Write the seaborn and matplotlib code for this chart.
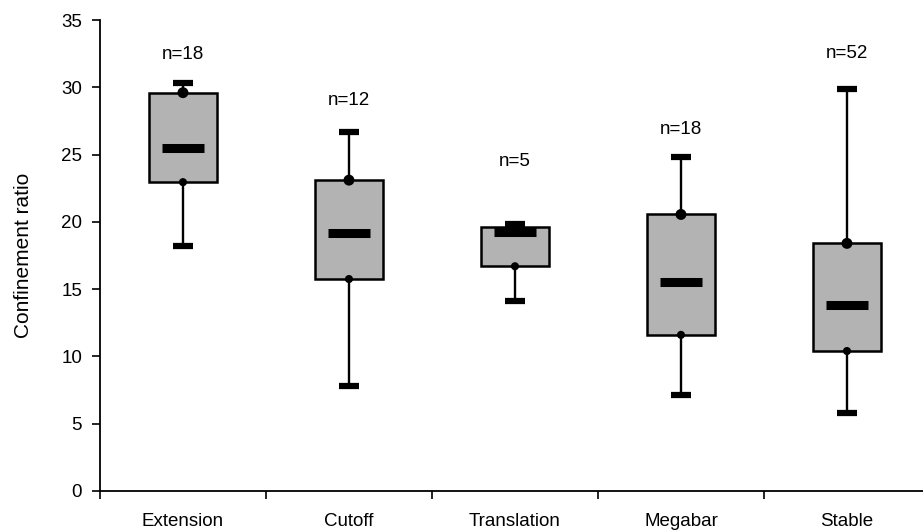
import numpy as np
import matplotlib
matplotlib.use("Agg")
import matplotlib.pyplot as plt
import seaborn as sns

# Values
categories = ["Extension", "Cutoff", "Translation", "Megabar", "Stable"]
whisker_low = [18.2, 7.8, 14.1, 7.1, 5.8]
q1 = [22.95, 15.75, 16.7, 11.6, 10.4]
medians = [25.5, 19.2, 19.25, 15.55, 13.8]
q3 = [29.6, 23.1, 19.6, 20.55, 18.4]
whisker_high = [30.3, 26.7, 19.85, 24.8, 29.9]
n_counts = [18, 12, 5, 18, 52]
n_label_y = [32.4, 29.0, 24.5, 26.9, 32.5]

sns.set_style("ticks", {"axes.edgecolor": "black", "xtick.color": "black",
                        "ytick.color": "black", "text.color": "black",
                        "axes.labelcolor": "black"})
plt.rcParams["font.family"] = ["Liberation Sans", "DejaVu Sans"]

fig = plt.figure(figsize=(9.23, 5.32), dpi=100)
ax = fig.add_axes([0.1083, 0.0771, 0.8917, 0.8853])

pos = np.arange(len(categories))

# boxes from the summary stats
stats = []
for i in range(len(categories)):
    stats.append(dict(med=medians[i], q1=q1[i], q3=q3[i],
                      whislo=whisker_low[i], whishi=whisker_high[i], fliers=[]))

ax.bxp(stats, positions=pos, widths=0.41, capwidths=0.125, patch_artist=True,
       showfliers=False,
       boxprops=dict(facecolor="#b3b3b3", edgecolor="black", linewidth=1.8),
       whiskerprops=dict(color="black", linewidth=1.7),
       capprops=dict(color="black", linewidth=4.5, solid_capstyle="butt"),
       medianprops=dict(visible=False))

# thick median bars, narrower than the box
ax.hlines(medians, pos - 0.127, pos + 0.127, colors="black", linewidth=6.5,
          zorder=3, capstyle="butt")

# dots on the box edges
sns.scatterplot(x=pos, y=q3, s=62, color="black", edgecolor="none",
                zorder=4, legend=False, ax=ax)
sns.scatterplot(x=pos, y=q1, s=34, color="black", edgecolor="none",
                zorder=4, legend=False, ax=ax)

for i in range(len(categories)):
    ax.text(pos[i], n_label_y[i], "n=" + str(n_counts[i]), ha="center",
            va="center", fontsize=13.5)

ax.set_xlim(-0.5, 4.458)
ax.set_ylim(0, 35)
ax.set_yticks(np.arange(0, 36, 5))
ax.set_xticks(pos - 0.5)
ax.set_xticklabels([])
ax.set_xticks(pos, minor=True)
ax.set_xticklabels(categories, minor=True)
ax.tick_params(axis="x", which="major", length=6, width=1.2, direction="out")
ax.tick_params(axis="x", which="minor", length=0, pad=16, labelsize=13.5)
ax.tick_params(axis="y", length=5.8, width=1.2, labelsize=13.5, pad=7)
ax.set_xlabel("")
ax.set_ylabel("Confinement ratio", fontsize=15, labelpad=20)

sns.despine(ax=ax)
for s in ["left", "bottom"]:
    ax.spines[s].set_linewidth(1.3)

fig.savefig("out.png", dpi=100)
